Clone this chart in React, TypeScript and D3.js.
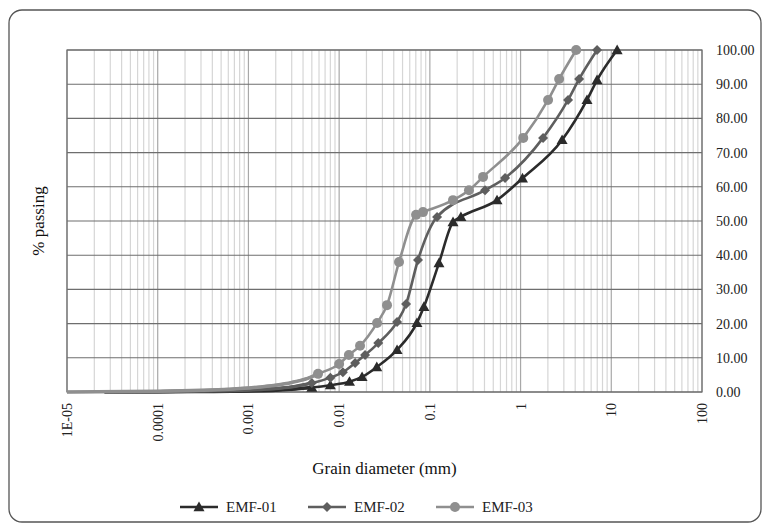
import React from "react";
import * as d3 from "d3";

const seriesNames = ["EMF-01", "EMF-02", "EMF-03"];
const seriesColors = ["#2b2b2b", "#5e5e5e", "#8f8f8f"];

const emf01Diam = [2.6e-5, 1e-4, 0.0003, 0.001, 0.002, 0.003, 0.005, 0.008, 0.013, 0.0179, 0.026, 0.0435, 0.072, 0.086, 0.126, 0.18, 0.22, 0.55, 1.05, 2.87, 5.4, 6.97, 11.6];
const emf01Pass = [0, 0.05, 0.15, 0.3, 0.5, 0.8, 1.3, 2, 3, 4.4, 7.3, 12.3, 20.2, 24.9, 37.7, 49.7, 51.2, 56.1, 62.5, 73.7, 85.4, 91.2, 100];

const emf02Diam = [2.6e-5, 1e-4, 0.0003, 0.001, 0.002, 0.003, 0.005, 0.008, 0.011, 0.015, 0.0193, 0.027, 0.0435, 0.0547, 0.074, 0.12, 0.406, 0.675, 1.77, 3.34, 4.42, 6.97];
const emf02Pass = [0, 0.1, 0.3, 0.6, 1, 1.5, 2.6, 4.2, 5.8, 8.5, 10.8, 14.3, 20.5, 25.7, 38.6, 51.2, 59, 62.6, 74.3, 85.4, 91.5, 100];

const emf03Diam = [1e-5, 1e-4, 0.0003, 0.001, 0.002, 0.003, 0.0045, 0.00585, 0.01, 0.0128, 0.017, 0.0262, 0.0337, 0.0457, 0.0705, 0.084, 0.18, 0.27, 0.386, 1.07, 2.01, 2.66, 4.1];
const emf03Pass = [0, 0.2, 0.5, 1.2, 2, 2.8, 4, 5.3, 8.2, 10.8, 13.5, 20.2, 25.4, 38, 51.8, 52.6, 56.1, 59, 62.9, 74.3, 85.4, 91.5, 100];

const xTickLabels = ["1E-05", "0.0001", "0.001", "0.01", "0.1", "1", "10", "100"];
const yTicks = [0, 10, 20, 30, 40, 50, 60, 70, 80, 90, 100];

const W = 765, H = 525;
const L = 67, R = 702, T = 50, B = 392;
const fontStyle = { fontFamily: '"Liberation Serif", "Times New Roman", Times, "DejaVu Serif", serif' };

export default function App() {
  const x = d3.scaleLog().domain([1e-5, 100]).range([L, R]);
  const y = d3.scaleLinear().domain([0, 100]).range([B, T]);
  const data = [
    emf01Diam.map((d, i) => [d, emf01Pass[i]] as [number, number]),
    emf02Diam.map((d, i) => [d, emf02Pass[i]] as [number, number]),
    emf03Diam.map((d, i) => [d, emf03Pass[i]] as [number, number]),
  ];
  const line = d3.line<[number, number]>().x(d => x(d[0])).y(d => y(d[1])).curve(d3.curveMonotoneX);

  const minor: number[] = [];
  const major: number[] = [];
  for (let e = -5; e <= 2; e++) {
    major.push(Math.pow(10, e));
    if (e < 2) for (let k = 2; k <= 9; k++) minor.push(k * Math.pow(10, e));
  }

  const marker = (si: number, cx: number, cy: number, key: string | number, scale = 1) => {
    const c = seriesColors[si];
    if (si === 0) {
      const s = 5.5 * scale;
      return <path key={key} d={`M${cx},${cy - s}L${cx + s},${cy + s * 0.75}L${cx - s},${cy + s * 0.75}Z`} fill={c} />;
    }
    if (si === 1) {
      const s = 5 * scale;
      return <path key={key} d={`M${cx},${cy - s}L${cx + s},${cy}L${cx},${cy + s}L${cx - s},${cy}Z`} fill={c} />;
    }
    return <circle key={key} cx={cx} cy={cy} r={5 * scale} fill={c} />;
  };

  const legendX = [180, 308, 436];

  return (
    <svg width={W} height={H} style={{ position: "absolute", left: 0, top: 0 }}>
      <rect x={0} y={0} width={W} height={H} fill="#fff" />
      <rect x={9} y={10} width={752} height={512} rx={13} ry={13} fill="#fff" stroke="#555" strokeWidth={1.3} />
      {minor.map((d, i) => (
        <line key={"mi" + i} x1={x(d)} x2={x(d)} y1={T} y2={B} stroke="#d6d6d6" strokeWidth={1.2} />
      ))}
      {major.map((d, i) => (
        <line key={"ma" + i} x1={x(d)} x2={x(d)} y1={T} y2={B} stroke="#a8a8a8" strokeWidth={1.2} />
      ))}
      {yTicks.map(v => (
        <line key={"h" + v} x1={L} x2={R} y1={y(v)} y2={y(v)} stroke="#6e6e6e" strokeWidth={1.1} />
      ))}
      <rect x={L} y={T} width={R - L} height={B - T} fill="none" stroke="#6e6e6e" strokeWidth={1.2} />
      {data.map((s, si) => (
        <g key={"s" + si}>
          <path d={line(s) || ""} fill="none" stroke={seriesColors[si]} strokeWidth={2.6} />
          <path d={line(s.filter(p => p[0] < 0.006)) || ""} fill="none" stroke={seriesColors[si]} strokeWidth={3.5} />
          {s.filter(p => p[0] >= 0.005).map((p, pi) => marker(si, x(p[0]), y(p[1]), pi))}
        </g>
      ))}
      {yTicks.map(v => (
        <text key={"yt" + v} x={716} y={y(v) + 5} fontSize={14} fill="#222" style={fontStyle}>{v.toFixed(2)}</text>
      ))}
      {xTickLabels.map((t, i) => {
        const px = x(Math.pow(10, i - 5));
        return (
          <text key={"xt" + i} transform={`translate(${px + 5},${403}) rotate(-90)`} textAnchor="end" fontSize={14} fill="#222" style={fontStyle}>{t}</text>
        );
      })}
      <text transform={`translate(44,${(T + B) / 2}) rotate(-90)`} textAnchor="middle" fontSize={17} fill="#111" style={fontStyle}>% passing</text>
      <text x={(L + R) / 2} y={474} textAnchor="middle" fontSize={17} fill="#111" style={fontStyle}>Grain diameter (mm)</text>
      {seriesNames.map((n, si) => (
        <g key={"lg" + si}>
          <line x1={legendX[si]} x2={legendX[si] + 38} y1={507} y2={507} stroke={seriesColors[si]} strokeWidth={2.6} />
          {marker(si, legendX[si] + 19, 507, "m" + si)}
          <text x={legendX[si] + 46} y={512} fontSize={15} fill="#222" style={fontStyle}>{n}</text>
        </g>
      ))}
    </svg>
  );
}
